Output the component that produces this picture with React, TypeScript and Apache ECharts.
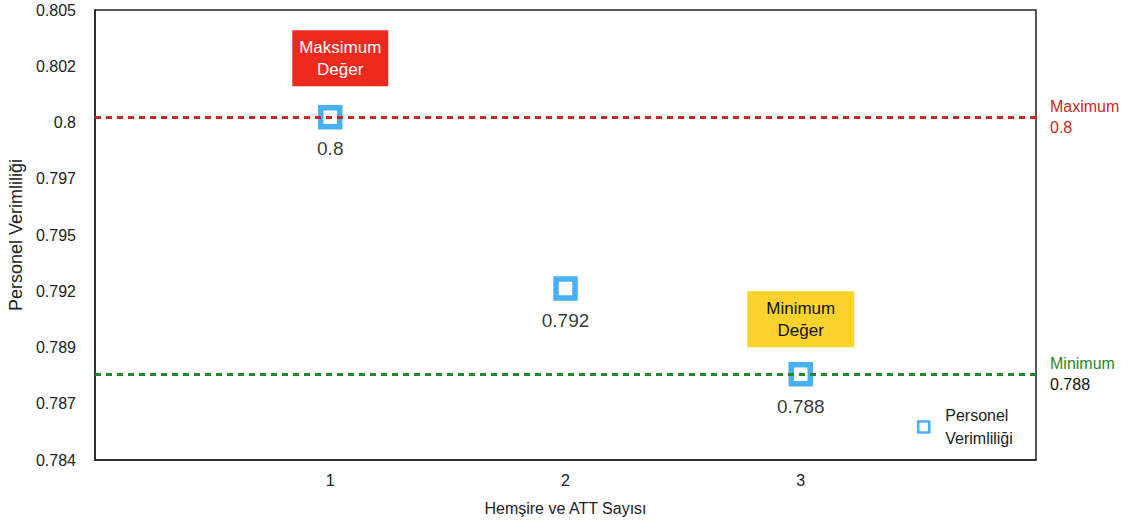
import React, { useEffect, useRef } from "react";
import * as echarts from "echarts";

const xValues = [1, 2, 3];
const productivity = [0.8, 0.792, 0.788];
const maxValue = 0.8;
const minValue = 0.788;
const seriesName = "Personel Verimliliği";
const xAxisName = "Hemşire ve ATT Sayısı";
const yAxisName = "Personel Verimliliği";
// y tick labels (in thousandths offset from 0.784)
const yBase = 0.784;
const yTop = 0.805;
const yTickStepThousandths = 2.625;

const FONT = "'Liberation Sans', Arial, Helvetica, sans-serif";

const fmt3 = (v: number) => String(Math.round(v * 1000 + 1e-6) / 1000);

export default function App() {
  const ref = useRef<HTMLDivElement>(null);
  useEffect(() => {
    if (!ref.current) return;
    const chart = echarts.init(ref.current, undefined, { renderer: "svg" });
    const spanThousandths = Math.round((yTop - yBase) * 1000 * 1000) / 1000;
    chart.setOption({
      animation: false,
      textStyle: { fontFamily: FONT },
      grid: {
        left: 95,
        right: 93,
        top: 10,
        bottom: 67,
        show: true,
        borderColor: "#222",
        borderWidth: 1.5,
        backgroundColor: "transparent",
        containLabel: false,
        outerBoundsMode: "none",
      },
      legend: {
        show: true,
        left: 912,
        top: 399,
        orient: "vertical",
        itemWidth: 11,
        itemHeight: 11,
        itemGap: 0,
        icon: "rect",
        itemStyle: { color: "#fff", borderColor: "#1a9cf5", borderWidth: 2.5 },
        data: [seriesName],
        formatter: () => "Personel\nVerimliliği",
        textStyle: { fontSize: 16, color: "#222", lineHeight: 23, fontFamily: FONT, padding: [0, 0, 0, 11] },
      },
      xAxis: {
        type: "value",
        min: 0,
        max: 4,
        interval: 1,
        name: xAxisName,
        nameLocation: "middle",
        nameGap: 40,
        nameTextStyle: { fontSize: 16, color: "#222" },
        axisLine: { show: true, lineStyle: { color: "#222", width: 1.5 } },
        axisTick: { show: false },
        splitLine: { show: false },
        axisLabel: {
          fontSize: 16,
          color: "#222",
          margin: 12,
          formatter: (v: number) => (xValues.includes(v) ? String(v) : ""),
        },
      },
      yAxis: [
        {
          type: "value",
          min: yBase,
          max: yTop,
          axisLine: { show: false },
          axisTick: { show: false },
          axisLabel: { show: false },
          splitLine: { show: false },
        },
        {
          type: "value",
          position: "left",
          min: 0,
          max: spanThousandths,
          interval: yTickStepThousandths,
          name: yAxisName,
          nameLocation: "middle",
          nameGap: 67,
          nameRotate: 90,
          nameTextStyle: { fontSize: 18, color: "#222" },
          axisLine: { show: true, lineStyle: { color: "#222", width: 1.5 } },
          axisTick: { show: false },
          splitLine: { show: false },
          axisLabel: {
            fontSize: 16,
            color: "#222",
            margin: 19,
            formatter: (v: number) => String(Math.round(yBase * 1000 + v + 1e-6) / 1000),
          },
        },
      ],
      series: [
        {
          name: seriesName,
          type: "scatter",
          yAxisIndex: 0,
          symbol: "rect",
          symbolSize: 19,
          z: 2,
          itemStyle: { color: "#fff", borderColor: "#1a9cf5", borderWidth: 5.5 },
          label: {
            show: true,
            position: "bottom",
            distance: 10,
            fontSize: 19,
            color: "#000",
            formatter: (p: any) => fmt3(p.value[1]),
          },
          data: xValues.map((x, i) => [x, productivity[i]]),
          markPoint: {
            silent: true,
            z: 3,
            data: [
              {
                coord: [xValues[productivity.indexOf(maxValue)], maxValue],
                symbol: "rect",
                symbolSize: [96, 56],
                symbolOffset: [10, -59],
                itemStyle: { color: "#ee2a1f" },
                label: {
                  show: true,
                  position: "inside",
                  formatter: "Maksimum\nDeğer",
                  color: "#fff",
                  fontSize: 17,
                  lineHeight: 22,
                },
              },
              {
                coord: [xValues[productivity.indexOf(minValue)], minValue],
                symbol: "rect",
                symbolSize: [107, 56],
                symbolOffset: [0, -55],
                itemStyle: { color: "#fbd32c" },
                label: {
                  show: true,
                  position: "inside",
                  formatter: "Minimum\nDeğer",
                  color: "#111",
                  fontSize: 17,
                  lineHeight: 22,
                },
              },
            ],
          },
          markLine: {
            silent: true,
            z: 5,
            precision: 6,
            symbol: ["none", "none"],
            data: [
              {
                yAxis: maxValue,
                lineStyle: { color: "#c42a22", type: [6, 5], width: 3 },
                label: {
                  show: true,
                  position: "end",
                  distance: 14,
                  formatter: "{a|Maximum}\n{a|" + fmt3(maxValue) + "}",
                  rich: { a: { color: "#c42a22", fontSize: 16, lineHeight: 21, fontFamily: FONT } },
                },
              },
              {
                yAxis: minValue,
                lineStyle: { color: "#1f8a2b", type: [6, 5], width: 3 },
                label: {
                  show: true,
                  position: "end",
                  distance: 14,
                  formatter: "{g|Minimum}\n{b|" + fmt3(minValue) + "}",
                  rich: {
                    g: { color: "#1f8a2b", fontSize: 16, lineHeight: 21, fontFamily: FONT },
                    b: { color: "#111", fontSize: 16, lineHeight: 21, fontFamily: FONT },
                  },
                },
              },
            ],
          },
        },
      ],
    });
    return () => chart.dispose();
  }, []);
  return <div ref={ref} style={{ width: 1129, height: 527, position: "absolute", left: 0, top: 0 }} />;
}
